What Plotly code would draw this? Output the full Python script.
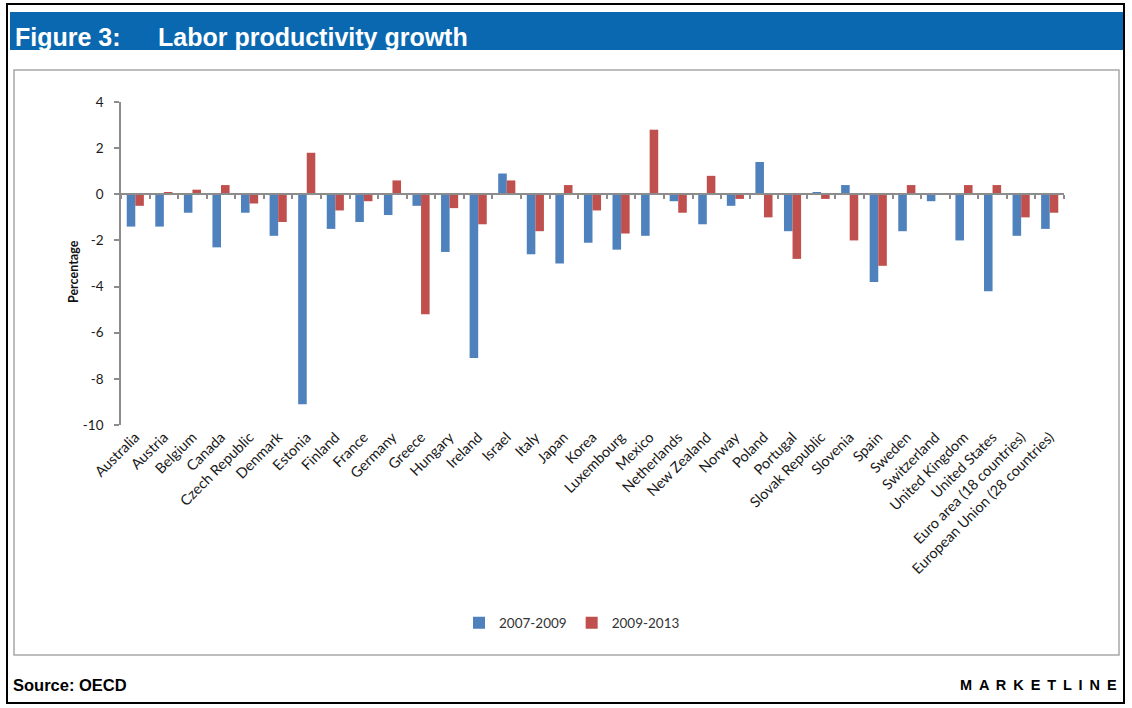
import plotly.graph_objects as go

categories = ["Australia", "Austria", "Belgium", "Canada", "Czech Republic", "Denmark",
              "Estonia", "Finland", "France", "Germany", "Greece", "Hungary", "Ireland",
              "Israel", "Italy", "Japan", "Korea", "Luxembourg", "Mexico", "Netherlands",
              "New Zealand", "Norway", "Poland", "Portugal", "Slovak Republic", "Slovenia",
              "Spain", "Sweden", "Switzerland", "United Kingdom", "United States",
              "Euro area (18 countries)", "European Union (28 countries)"]

growth_2007_2009 = [-1.4, -1.4, -0.8, -2.3, -0.8, -1.8, -9.1, -1.5, -1.2, -0.9, -0.5, -2.5, -7.1,
                    0.9, -2.6, -3.0, -2.1, -2.4, -1.8, -0.3, -1.3, -0.5, 1.4, -1.6, 0.1, 0.4,
                    -3.8, -1.6, -0.3, -2.0, -4.2, -1.8, -1.5]

growth_2009_2013 = [-0.5, 0.1, 0.2, 0.4, -0.4, -1.2, 1.8, -0.7, -0.3, 0.6, -5.2, -0.6, -1.3,
                    0.6, -1.6, 0.4, -0.7, -1.7, 2.8, -0.8, 0.8, -0.2, -1.0, -2.8, -0.2, -2.0,
                    -3.1, 0.4, 0.0, 0.4, 0.4, -1.0, -0.8]

series_names = ["2007-2009", "2009-2013"]
y_ticks = [4, 2, 0, -2, -4, -6, -8, -10]
y_tick_labels = [str(v) for v in y_ticks]

BLUE = "#4F81BD"
RED = "#C0504D"
HEADER = "#0A68B0"

W, H = 1132, 708
PL, PR, PT, PB = 121, 1064, 102, 425  # plot area in pixels


def px(x):
    return (x - PL) / (PR - PL)


def py(y):
    return (PB - y) / (PB - PT)


fig = go.Figure()
fig.add_trace(go.Bar(x=categories, y=growth_2007_2009, name=series_names[0],
                     marker=dict(color=BLUE, line=dict(width=0))))
fig.add_trace(go.Bar(x=categories, y=growth_2009_2013, name=series_names[1],
                     marker=dict(color=RED, line=dict(width=0))))
# invisible trace carrying the zero-line category axis
fig.add_trace(go.Scatter(x=categories, y=[0] * len(categories), xaxis="x2", yaxis="y",
                         mode="none", showlegend=False, hoverinfo="skip"))

zero_pos = (0 - min(y_ticks)) / (max(y_ticks) - min(y_ticks))
SEP = " \u2009"

fig.update_layout(
    width=W, height=H,
    margin=dict(l=PL, r=W - PR, t=PT, b=H - PB),
    paper_bgcolor="white", plot_bgcolor="white",
    barmode="group", bargap=0.40, bargroupgap=0.0,
    font=dict(family="Lato, Open Sans, sans-serif", color="#222"),
    xaxis=dict(showline=False, ticks="", showgrid=False, zeroline=False,
               tickangle=-45, tickfont=dict(size=14.5, family="Lato", color="#1a1a1a"),
               categoryorder="array", categoryarray=categories),
    xaxis2=dict(overlaying="x", anchor="free", position=zero_pos, matches="x",
                showline=True, linecolor="#8c8c8c", linewidth=1.5,
                ticks="outside", tickson="boundaries", ticklen=4, tickcolor="#8c8c8c",
                tickwidth=1.5, showticklabels=False, showgrid=False, zeroline=False),
    yaxis=dict(range=[min(y_ticks), max(y_ticks)], tickvals=y_ticks, ticktext=y_tick_labels,
               showline=True, linecolor="#8c8c8c", linewidth=1.5,
               ticks="outside", ticklen=5, tickcolor="#8c8c8c", tickwidth=1.5,
               ticklabelstandoff=8,
               tickfont=dict(size=13.5, family="Lato", color="#1a1a1a"),
               showgrid=False, zeroline=False),
    legend=dict(orientation="h", x=px(572), xanchor="center", y=py(623), yanchor="middle",
                font=dict(size=13.5, family="Lato", color="#333"), itemwidth=30,
                bgcolor="rgba(0,0,0,0)"),
    shapes=[
        # outer black frame
        dict(type="rect", xref="paper", yref="paper", x0=px(7), x1=px(1124), y0=py(4), y1=py(703),
             line=dict(color="black", width=2), fillcolor="rgba(0,0,0,0)", layer="below"),
        # header band
        dict(type="rect", xref="paper", yref="paper", x0=px(10), x1=px(1123), y0=py(12), y1=py(50),
             line=dict(width=0), fillcolor=HEADER, layer="below"),
        # chart box
        dict(type="rect", xref="paper", yref="paper", x0=px(14), x1=px(1119), y0=py(70), y1=py(655),
             line=dict(color="#a8a8a8", width=1.5), fillcolor="rgba(0,0,0,0)", layer="below"),
    ],
    annotations=[
        dict(text="<b>Percentage</b>", xref="paper", yref="paper", x=px(73), y=py(272),
             xanchor="center", yanchor="middle", showarrow=False, textangle=-90,
             font=dict(family="Lato", size=12.5, color="#111")),
        dict(text="<b>Figure 3:</b>", xref="paper", yref="paper", x=px(13), y=py(37),
             xanchor="left", yanchor="middle", showarrow=False,
             font=dict(family="Liberation Sans, Arial", size=25, color="white")),
        dict(text="<b>Labor productivity growth</b>", xref="paper", yref="paper", x=px(156), y=py(37),
             xanchor="left", yanchor="middle", showarrow=False,
             font=dict(family="Liberation Sans, Arial", size=25, color="white")),
        dict(text="<b>Source: OECD</b>", xref="paper", yref="paper", x=px(11), y=py(685),
             xanchor="left", yanchor="middle", showarrow=False,
             font=dict(family="Liberation Sans, Arial", size=16.5, color="black")),
        dict(text="<b>" + SEP.join("MARKETLINE") + "</b>", xref="paper", yref="paper",
             x=px(1119), y=py(685),
             xanchor="right", yanchor="middle", showarrow=False,
             font=dict(family="Liberation Sans, Arial", size=14.5, color="black")),
    ],
)

fig.write_html("out.html", config={"displayModeBar": False},
               post_script="document.body.style.margin='0';")
